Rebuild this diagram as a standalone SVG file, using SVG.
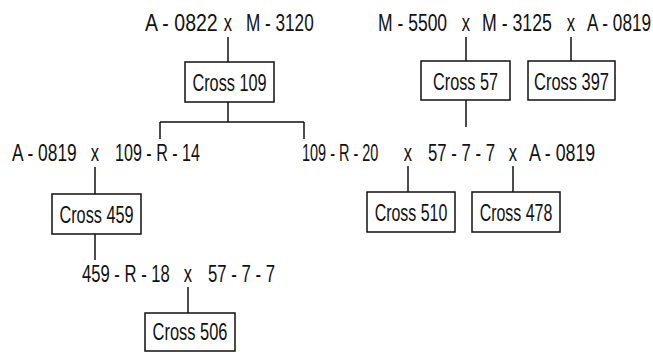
<svg xmlns="http://www.w3.org/2000/svg" width="653" height="352" viewBox="0 0 653 352">
  <style>
    text { font-family: "Liberation Sans", Arial, sans-serif; font-size: 23px; fill: #111; }
    .mid { text-anchor: middle; }
    .box rect { fill: #fff; stroke: #111; stroke-width: 1.5; }
    .box text { text-anchor: middle; }
    #connectors line { stroke: #111; stroke-width: 1.5; }
  </style>
  <rect width="653" height="352" fill="#fff"/>

  <!-- cross formulas; narrow lettering via horizontal scale -->
  <g id="parents">
    <text transform="translate(145,31) scale(0.72,1)" textLength="101" lengthAdjust="spacingAndGlyphs">A - 0822</text>
    <text class="mid" transform="translate(228,31) scale(0.72,1)">x</text>
    <text transform="translate(246,31) scale(0.72,1)" textLength="94" lengthAdjust="spacingAndGlyphs">M - 3120</text>

    <text transform="translate(378,31) scale(0.72,1)" textLength="96" lengthAdjust="spacingAndGlyphs">M - 5500</text>
    <text class="mid" transform="translate(466,31) scale(0.72,1)">x</text>
    <text transform="translate(482,31) scale(0.72,1)" textLength="97" lengthAdjust="spacingAndGlyphs">M - 3125</text>
    <text class="mid" transform="translate(571,31) scale(0.72,1)">x</text>
    <text transform="translate(587,31) scale(0.72,1)" textLength="89" lengthAdjust="spacingAndGlyphs">A - 0819</text>

    <text transform="translate(12,161) scale(0.72,1)" textLength="90" lengthAdjust="spacingAndGlyphs">A - 0819</text>
    <text class="mid" transform="translate(95,161) scale(0.72,1)">x</text>
    <text transform="translate(115,161) scale(0.72,1)" textLength="118" lengthAdjust="spacingAndGlyphs">109 - R - 14</text>

    <text transform="translate(302,161) scale(0.72,1)" textLength="106" lengthAdjust="spacingAndGlyphs">109 - R - 20</text>
    <text class="mid" transform="translate(408,161) scale(0.72,1)">x</text>
    <text transform="translate(428,161) scale(0.72,1)" textLength="93" lengthAdjust="spacingAndGlyphs">57 - 7 - 7</text>
    <text class="mid" transform="translate(513,161) scale(0.72,1)">x</text>
    <text transform="translate(529,161) scale(0.72,1)" textLength="92" lengthAdjust="spacingAndGlyphs">A - 0819</text>

    <text transform="translate(82,282) scale(0.72,1)" textLength="122" lengthAdjust="spacingAndGlyphs">459 - R - 18</text>
    <text class="mid" transform="translate(188,282) scale(0.72,1)">x</text>
    <text transform="translate(208,282) scale(0.72,1)" textLength="93" lengthAdjust="spacingAndGlyphs">57 - 7 - 7</text>
  </g>

  <g id="connectors">
    <line x1="228" y1="37" x2="228" y2="62"/>
    <line x1="228" y1="102" x2="228" y2="122"/>
    <line x1="160" y1="122" x2="304" y2="122"/>
    <line x1="160" y1="122" x2="160" y2="139"/>
    <line x1="304" y1="122" x2="304" y2="139"/>
    <line x1="466" y1="37" x2="466" y2="61"/>
    <line x1="466" y1="100" x2="466" y2="127"/>
    <line x1="571" y1="37" x2="571" y2="61"/>
    <line x1="95" y1="167" x2="95" y2="194"/>
    <line x1="95" y1="234" x2="95" y2="260"/>
    <line x1="408" y1="166" x2="408" y2="192"/>
    <line x1="513" y1="166" x2="513" y2="192"/>
    <line x1="188" y1="287" x2="188" y2="313"/>
  </g>

  <g id="cross109" class="box">
    <rect x="185" y="62" width="89" height="40"/>
    <text transform="translate(229.5,91) scale(0.72,1)" textLength="103" lengthAdjust="spacingAndGlyphs">Cross 109</text>
  </g>
  <g id="cross57" class="box">
    <rect x="421" y="61" width="89" height="39"/>
    <text transform="translate(465.5,90) scale(0.72,1)" textLength="90" lengthAdjust="spacingAndGlyphs">Cross 57</text>
  </g>
  <g id="cross397" class="box">
    <rect x="528" y="61" width="87" height="39"/>
    <text transform="translate(571.5,90) scale(0.72,1)" textLength="104" lengthAdjust="spacingAndGlyphs">Cross 397</text>
  </g>
  <g id="cross459" class="box">
    <rect x="52" y="194" width="89" height="40"/>
    <text transform="translate(96.5,223) scale(0.72,1)" textLength="103" lengthAdjust="spacingAndGlyphs">Cross 459</text>
  </g>
  <g id="cross510" class="box">
    <rect x="367" y="192" width="88" height="40"/>
    <text transform="translate(411,221) scale(0.72,1)" textLength="101" lengthAdjust="spacingAndGlyphs">Cross 510</text>
  </g>
  <g id="cross478" class="box">
    <rect x="472" y="192" width="88" height="40"/>
    <text transform="translate(516,221) scale(0.72,1)" textLength="101" lengthAdjust="spacingAndGlyphs">Cross 478</text>
  </g>
  <g id="cross506" class="box">
    <rect x="145" y="313" width="90" height="38"/>
    <text transform="translate(190,340) scale(0.72,1)" textLength="104" lengthAdjust="spacingAndGlyphs">Cross 506</text>
  </g>
</svg>
